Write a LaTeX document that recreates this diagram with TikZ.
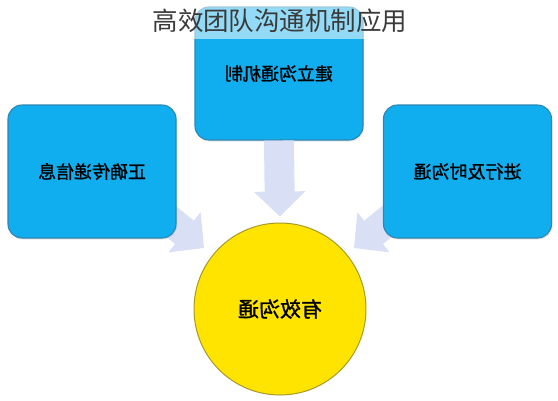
\documentclass[tikz,border=0pt]{standalone}
\usepackage{fontspec}
\newfontfamily\cjk{Noto Sans CJK SC}
\newfontfamily\cjkb[FakeBold=1.2]{Noto Sans CJK SC}
\usetikzlibrary{arrows.meta,shadows}
\definecolor{boxblue}{HTML}{10AEEE}
\definecolor{boxline}{HTML}{2F86B4}
\definecolor{circfill}{HTML}{FFE400}
\definecolor{circline}{HTML}{A89A2A}
\definecolor{arrowfill}{HTML}{D9E0F5}
\definecolor{titlegray}{HTML}{3A3A3A}
\tikzset{
  bluebox/.style={draw=boxline, line width=1.1pt, fill=boxblue, rounded corners=14pt,
    minimum width=168pt, minimum height=133pt, inner sep=0pt,
    drop shadow={opacity=0.18, shadow xshift=1pt, shadow yshift=-1.5pt},
    font=\cjkb\fontsize{18pt}{20pt}\selectfont, text=black},
  yellowcirc/.style={circle, draw=circline, line width=1pt, fill=circfill,
    minimum size=172pt, inner sep=0pt,
    font=\cjkb\fontsize{21pt}{23pt}\selectfont, text=black},
  blockarrow/.style={draw=arrowfill, line width=30pt,
    -{Triangle[width=50pt,length=25pt]}},
  titletext/.style={font=\cjk\fontsize{25.5pt}{27pt}\selectfont, text=titlegray, inner sep=0pt}
}
\begin{document}
\begin{tikzpicture}[x=1pt,y=-1pt]
\useasboundingbox (0,0) rectangle (558,400);
\fill[white] (0,0) rectangle (558,400);
% coordinates for arrow ends
\coordinate (lstart) at (148,203);
\coordinate (ltip) at (204,248);
\coordinate (rstart) at (410,203);
\coordinate (rtip) at (354,248);
% main shapes
\node[yellowcirc] (circ) at (280,309) {\reflectbox{有效沟通}};
\node[bluebox] (top) at (279,73.5) {\reflectbox{建立沟通机制}};
% arrows
\draw[blockarrow] (lstart) -- (ltip);
\draw[blockarrow] (rstart) -- (rtip);
\draw[blockarrow, shorten >=6pt] (top.south) -- (circ.north);
\node[bluebox] (left) at (92,171.5) {\reflectbox{正确传递信息}};
\node[bluebox] (right) at (467.5,171.5) {\reflectbox{进行及时沟通}};
% title band
\fill[white, opacity=0.55] (0,0) rectangle (558,39);
\node[titletext] (title) at (280,21) {高效团队沟通机制应用};
\end{tikzpicture}
\end{document}
